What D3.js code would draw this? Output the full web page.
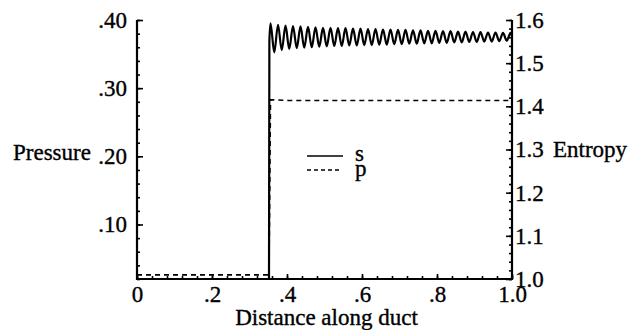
<!DOCTYPE html>
<html>
<head>
<meta charset="utf-8">
<script src="https://cdn.jsdelivr.net/npm/d3@7"></script>
<style>
  html, body { margin: 0; padding: 0; background: #fff; }
</style>
</head>
<body>
<svg id="chart" width="630" height="330"></svg>
<script>
// ---- data ----
const xTickValues = [0, 0.2, 0.4, 0.6, 0.8, 1.0];
const xTickLabels = ["0", ".2", ".4", ".6", ".8", "1.0"];
const pTickValues = [0.10, 0.20, 0.30, 0.40];
const pTickLabels = [".10", ".20", ".30", ".40"];
const sTickValues = [1.0, 1.1, 1.2, 1.3, 1.4, 1.5, 1.6];
const sTickLabels = ["1.0", "1.1", "1.2", "1.3", "1.4", "1.5", "1.6"];

// entropy s (solid): pre-shock flat, jump, decaying oscillation
const sX = [0, 0.352, 0.353, 0.356,
  0.366, 0.376, 0.386, 0.396, 0.406, 0.416, 0.426, 0.436, 0.446, 0.456,
  0.466, 0.476, 0.486, 0.496, 0.506, 0.516, 0.526, 0.536, 0.546, 0.556,
  0.566, 0.576, 0.586, 0.596, 0.606, 0.616, 0.626, 0.636, 0.646, 0.656,
  0.666, 0.676, 0.686, 0.696, 0.706, 0.716, 0.726, 0.736, 0.746, 0.756,
  0.766, 0.776, 0.786, 0.796, 0.806, 0.816, 0.826, 0.836, 0.846, 0.856,
  0.866, 0.876, 0.886, 0.896, 0.906, 0.916, 0.926, 0.936, 0.946, 0.956,
  0.966, 0.976, 0.986, 0.996, 1.0];
const sY = [1.0, 1.0, 1.55, 1.592,
  1.525, 1.589, 1.530, 1.587, 1.533, 1.586, 1.535, 1.585, 1.536, 1.584,
  1.537, 1.583, 1.538, 1.582, 1.539, 1.582, 1.540, 1.581, 1.540, 1.581,
  1.541, 1.580, 1.541, 1.580, 1.542, 1.579, 1.542, 1.579, 1.543, 1.578,
  1.543, 1.578, 1.544, 1.577, 1.544, 1.577, 1.545, 1.576, 1.545, 1.576,
  1.546, 1.575, 1.546, 1.575, 1.547, 1.574, 1.547, 1.574, 1.548, 1.573,
  1.548, 1.573, 1.549, 1.572, 1.549, 1.572, 1.550, 1.571, 1.550, 1.571,
  1.551, 1.570, 1.552, 1.570, 1.562];

// pressure p (dashed)
const pX = [0, 0.1, 0.2, 0.3, 0.352, 0.356, 0.4, 0.5, 0.6, 0.7, 0.8, 0.9, 1.0];
const pY = [0.026, 0.026, 0.026, 0.026, 0.026, 0.283, 0.282, 0.282, 0.282, 0.282, 0.282, 0.282, 0.282];

const legendNames = ["s", "p"];

// ---- layout ----
const svg = d3.select("#chart");
const mLeft = 137, mRight = 512, mTop = 20, mBottom = 279;
const serif = "'Liberation Serif'";
const font = 23;

const x = d3.scaleLinear().domain([0, 1]).range([mLeft, mRight]);
const yP = d3.scaleLinear().domain([0.02, 0.40]).range([mBottom, mTop]);
const yS = d3.scaleLinear().domain([1.0, 1.6]).range([mBottom, mTop]);

function styleText(sel) {
  sel.style("font-family", serif).style("font-size", font + "px")
    .attr("fill", "#000").attr("stroke", "#000").attr("stroke-width", 0.35);
}

// bottom axis (ticks pointing up/inside)
const gx = svg.append("g").attr("transform", `translate(0,${mBottom})`);
gx.call(d3.axisBottom(x).tickValues(d3.range(0, 1.0001, 0.04)).tickSize(-3).tickFormat(""));
gx.call(g => g.select(".domain").remove());
gx.append("g").call(d3.axisBottom(x).tickValues(xTickValues).tickSize(-5)
    .tickFormat((d, i) => xTickLabels[i]).tickPadding(7))
  .call(g => g.select(".domain").remove())
  .call(g => g.selectAll("text").call(styleText));

// left axis (ticks inside)
const gl = svg.append("g").attr("transform", `translate(${mLeft},0)`);
gl.call(d3.axisLeft(yP).tickValues(d3.range(0.02, 0.4001, 0.02)).tickSize(-3).tickFormat(""))
  .call(g => g.select(".domain").remove());
gl.append("g").call(d3.axisLeft(yP).tickValues(pTickValues).tickSize(-6)
    .tickFormat((d, i) => pTickLabels[i]).tickPadding(10))
  .call(g => g.select(".domain").remove())
  .call(g => g.selectAll("text").call(styleText));

// right axis (ticks inside)
const gr = svg.append("g").attr("transform", `translate(${mRight},0)`);
gr.call(d3.axisRight(yS).tickValues(d3.range(1.0, 1.6001, 0.02)).tickSize(-3).tickFormat(""))
  .call(g => g.select(".domain").remove());
gr.append("g").call(d3.axisRight(yS).tickValues(sTickValues).tickSize(-6)
    .tickFormat((d, i) => sTickLabels[i]).tickPadding(3))
  .call(g => g.select(".domain").remove())
  .call(g => g.selectAll("text").call(styleText));

svg.selectAll(".tick line").attr("stroke", "#000").attr("stroke-width", 1.6);

// axis lines
const axisPath = d3.path();
axisPath.moveTo(mLeft, mTop); axisPath.lineTo(mLeft, mBottom); axisPath.lineTo(mRight, mBottom); axisPath.lineTo(mRight, mTop);
svg.append("path").attr("d", axisPath.toString()).attr("fill", "none")
  .attr("stroke", "#000").attr("stroke-width", 2.2);

// series
const pData = pX.map((d, i) => [d, pY[i]]);
const sData = sX.map((d, i) => [d, sY[i]]);

svg.append("path").datum(pData)
  .attr("d", d3.line().x(d => x(d[0])).y(d => yP(d[1])))
  .attr("fill", "none").attr("stroke", "#000").attr("stroke-width", 1.6)
  .attr("stroke-dasharray", "5,4");

svg.append("path").datum(sData)
  .attr("d", d3.line().x(d => x(d[0])).y(d => yS(d[1])).curve(d3.curveMonotoneX))
  .attr("fill", "none").attr("stroke", "#000").attr("stroke-width", 2.2);

// axis titles
svg.append("text").attr("x", 13).attr("y", 160).text("Pressure").call(styleText);
svg.append("text").attr("x", 553).attr("y", 157).text("Entropy").call(styleText);
svg.append("text").attr("x", (mLeft + mRight) / 2 + 2).attr("y", 325).attr("text-anchor", "middle")
  .text("Distance along duct").call(styleText);

// legend
const legend = svg.append("g");
legend.append("line").attr("x1", 307).attr("x2", 343).attr("y1", 156).attr("y2", 156)
  .attr("stroke", "#000").attr("stroke-width", 1.6);
legend.append("line").attr("x1", 307).attr("x2", 339).attr("y1", 170).attr("y2", 170)
  .attr("stroke", "#000").attr("stroke-width", 1.6).attr("stroke-dasharray", "4,3");
legend.append("text").attr("x", 355).attr("y", 161).text(legendNames[0]).call(styleText);
legend.append("text").attr("x", 355).attr("y", 176).text(legendNames[1]).call(styleText);
</script>
</body>
</html>
